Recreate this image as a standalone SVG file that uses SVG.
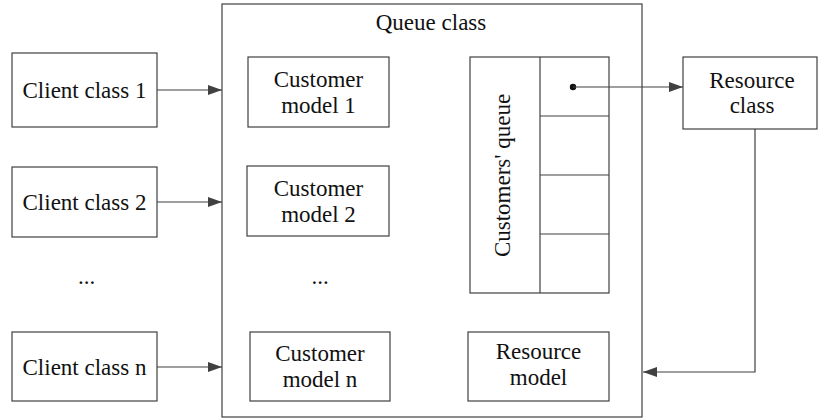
<svg xmlns="http://www.w3.org/2000/svg" width="818" height="419" viewBox="0 0 818 419">
<style>
.b{fill:#fff;stroke:#404040;stroke-width:1.2}
text{font-family:'Liberation Serif','Times New Roman',Times,serif;font-size:23px;fill:#111;text-anchor:middle}
.c{fill:none;stroke:#404040;stroke-width:1.2}
</style>
<defs>
<marker id="ah" markerWidth="14" markerHeight="10" refX="14" refY="5" orient="auto" markerUnits="userSpaceOnUse">
<path d="M0,0 L14,5 L0,10 Z" fill="#404040"/>
</marker>
</defs>
<rect width="818" height="419" fill="#fff"/>
<g id="queue-class">
<rect class="b" x="222" y="4" width="420" height="413"/>
<text x="431" y="30">Queue class</text>
</g>
<g id="client1"><rect class="b" x="12" y="53" width="145" height="74"/><text x="84.5" y="98">Client class 1</text></g>
<g id="client2"><rect class="b" x="12" y="167" width="145" height="70"/><text x="84.5" y="210">Client class 2</text></g>
<g id="ellipsis-left"><text x="86.5" y="284">...</text></g>
<g id="clientn"><rect class="b" x="12" y="332" width="145" height="69"/><text x="84.5" y="374.5">Client class n</text></g>
<g id="cm1"><rect class="b" x="248" y="57" width="141" height="70"/><text x="318.5" y="87">Customer</text><text x="318.5" y="113">model 1</text></g>
<g id="cm2"><rect class="b" x="247" y="166" width="142" height="70"/><text x="318.5" y="196">Customer</text><text x="318.5" y="222">model 2</text></g>
<g id="ellipsis-mid"><text x="320" y="284">...</text></g>
<g id="cmn"><rect class="b" x="250" y="332" width="140" height="69"/><text x="320" y="361">Customer</text><text x="320" y="387">model n</text></g>
<g id="customers-queue">
<rect class="b" x="470" y="57" width="139" height="236"/>
<line class="c" x1="540" y1="57" x2="540" y2="293"/>
<line class="c" x1="540" y1="116" x2="609" y2="116"/>
<line class="c" x1="540" y1="175" x2="609" y2="175"/>
<line class="c" x1="540" y1="234" x2="609" y2="234"/>
<text transform="translate(510,175.5) rotate(-90)">Customers' queue</text>
</g>
<g id="resource-class"><rect class="b" x="683" y="57" width="134" height="72"/><text x="752" y="88">Resource</text><text x="752" y="112.5">class</text></g>
<g id="resource-model"><rect class="b" x="468" y="332" width="141" height="69"/><text x="538.5" y="359">Resource</text><text x="538.5" y="385">model</text></g>
<g id="connectors">
<line class="c" x1="157" y1="90" x2="222" y2="90" marker-end="url(#ah)"/>
<line class="c" x1="157" y1="202" x2="222" y2="202" marker-end="url(#ah)"/>
<line class="c" x1="157" y1="367" x2="222" y2="367" marker-end="url(#ah)"/>
<circle cx="573" cy="87" r="3.2" fill="#111"/>
<line class="c" x1="573" y1="87" x2="683" y2="87" marker-end="url(#ah)"/>
<polyline class="c" points="755,129 755,372 643,372" marker-end="url(#ah)"/>
</g>
</svg>
